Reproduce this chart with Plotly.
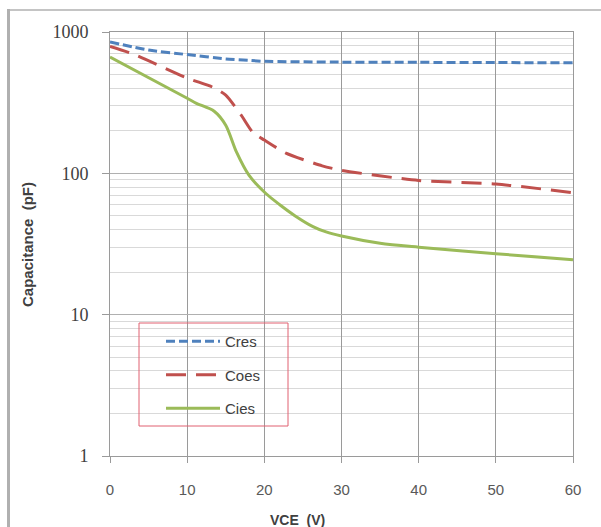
import plotly.graph_objects as go

# ---- data ----
cres_x = [0, 5, 10, 15, 18, 20, 30, 40, 50, 60]
cres_y = [850, 745, 692, 645, 630, 620, 612, 610, 608, 605]

coes_x = [0, 3, 10, 13.3, 15, 17, 18.5, 20, 22.8, 27.5, 30, 40, 50, 60]
coes_y = [790, 698, 472, 407, 357, 258, 195, 172, 139, 113, 105, 89, 84, 73]

cies_x = [0, 10, 11.2, 13.5, 15, 16.4, 18, 20.2, 22, 24, 26.3, 28, 30, 35, 40, 50, 60]
cies_y = [665, 340, 313, 275, 219, 141, 97, 72, 60, 50, 42, 38.5, 36, 32, 30, 27, 24.5]

y_ticks = [1, 10, 100, 1000]
y_ticktext = ["1", "10", "100", "1000"]
x_ticks = [0, 10, 20, 30, 40, 50, 60]
minor_y = [m * d for d in (1, 10, 100) for m in range(2, 10)]

W, H = 601, 527
L, R, T, B = 110, 28, 32, 71
pw, ph = W - L - R, H - T - B

def px(x):
    return (x - L) / pw

def py(y):
    return (H - B - y) / ph

fig = go.Figure()
fig.add_trace(go.Scatter(x=cres_x, y=cres_y, name="Cres", mode="lines",
                         line=dict(color="#4f81bd", width=3, dash="9px,4px", shape="spline", smoothing=0.6),
                         legendgroup="a"))
fig.add_trace(go.Scatter(x=coes_x, y=coes_y, name="Coes", mode="lines",
                         line=dict(color="#c0504d", width=3, dash="20px,10px", shape="spline", smoothing=0.6),
                         legendgroup="b"))
fig.add_trace(go.Scatter(x=cies_x, y=cies_y, name="Cies", mode="lines",
                         line=dict(color="#9bbb59", width=3, shape="spline", smoothing=0.8),
                         legendgroup="c"))

fig.update_layout(
    width=W, height=H,
    margin=dict(l=L, r=R, t=T, b=B),
    paper_bgcolor="white", plot_bgcolor="white",
    showlegend=True,
    legend=dict(x=px(161), y=py(325), xanchor="left", yanchor="top",
                bgcolor="rgba(0,0,0,0)", borderwidth=0,
                font=dict(family="Liberation Sans", size=15, color="#404040"),
                tracegroupgap=11, itemwidth=54),
    xaxis=dict(range=[0, 60], tickvals=x_ticks, showgrid=True, gridcolor="#9a9a9a", gridwidth=1,
               zeroline=False, showline=True, mirror=True, linecolor="#9a9a9a", linewidth=1,
               ticks="outside", ticklen=6, tickcolor="#9a9a9a", ticklabelstandoff=14,
               tickfont=dict(family="Liberation Sans", size=15, color="#595959")),
    yaxis=dict(type="log", range=[0, 3], tickvals=y_ticks, ticktext=y_ticktext,
               showgrid=True, gridcolor="#b0b0b0", gridwidth=1,
               zeroline=False, showline=True, mirror=True, linecolor="#9a9a9a", linewidth=1,
               ticks="outside", ticklen=7, tickcolor="#9a9a9a", ticklabelstandoff=10,
               tickfont=dict(family="Liberation Serif", size=18, color="#404040"),
               minor=dict(tickvals=minor_y, showgrid=True, gridcolor="#d9d9d9", gridwidth=1, ticks="")),
    shapes=[
        dict(type="rect", xref="paper", yref="paper", x0=px(139), x1=px(288), y0=py(426), y1=py(323),
             line=dict(color="#e06070", width=1), fillcolor="rgba(255,255,255,0)", layer="above"),
        dict(type="line", xref="paper", yref="paper", x0=px(8.5), x1=px(8.5), y0=py(9), y1=py(535),
             line=dict(color="#b0b0b0", width=3)),
        dict(type="line", xref="paper", yref="paper", x0=px(7), x1=px(610), y0=py(10), y1=py(10),
             line=dict(color="#b0b0b0", width=1.5)),
    ],
    annotations=[
        dict(text="<b>VCE  (V)</b>", xref="paper", yref="paper", x=px(297), y=py(520),
             xanchor="center", yanchor="middle", showarrow=False,
             font=dict(family="Liberation Sans", size=14, color="#404040")),
        dict(text="<b>Capacitance  (pF)</b>", xref="paper", yref="paper", x=px(27), y=py(245),
             xanchor="center", yanchor="middle", showarrow=False, textangle=-90,
             font=dict(family="Liberation Sans", size=15, color="#404040")),
    ],
)

fig.write_html("out.html")
